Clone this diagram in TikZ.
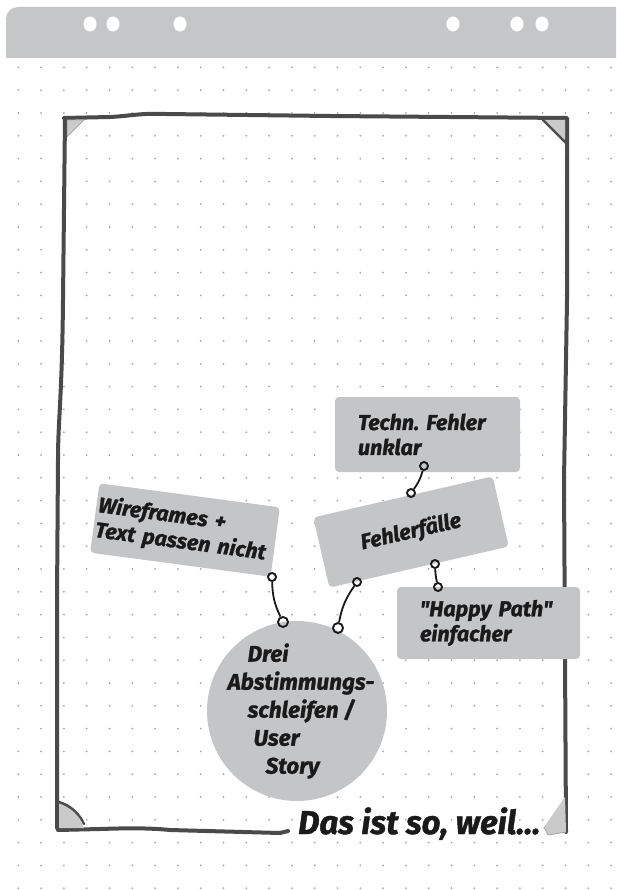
\documentclass[tikz,border=0pt]{standalone}
\usepackage{fontspec}
\setmainfont{Fira Sans}
\newfontfamily\labelface{Fira Sans}[FakeBold=1.3]
\definecolor{band}{HTML}{C5C6C8}
\definecolor{boxg}{HTML}{C4C5C7}
\definecolor{tabg}{HTML}{CACACA}
\definecolor{framec}{HTML}{4A4A4A}
\definecolor{dotc}{HTML}{A5A5A5}
\definecolor{ink}{HTML}{1A1A1A}
\newcommand{\labelfont}{\labelface\fontsize{21.5}{25}\selectfont\bfseries\itshape}
\newcommand{\circfont}{\labelface\fontsize{22.5}{28}\selectfont\bfseries\itshape}
\newcommand{\titlefont}{\labelface\fontsize{33}{36}\selectfont\bfseries\itshape}
\begin{document}
\begin{tikzpicture}[x=1pt,y=-1pt,
  card/.style={fill=boxg, rounded corners=4pt, inner sep=0pt, font=\labelfont, text=ink},
  ring/.style={circle, draw=ink, line width=1.9pt, minimum size=8pt, inner sep=0pt},
  bigring/.style={ring, minimum size=10pt},
  hook/.style={draw=ink, line width=1.8pt},
  frameline/.style={draw=framec, line width=4pt, line cap=round, line join=round},
  tabline/.style={draw=framec, line width=2.4pt, line cap=round}]
\fill[white] (0,0) rectangle (616,890);
\useasboundingbox (0,0) rectangle (616,890);
% dot grid
\foreach \i in {0,...,26} {
  \foreach \j in {0,...,36} {
    \fill[dotc] ({18.3+22.8*\i},{67.4+22.8*\j}) circle[radius=1];
  }
}
% header band
\fill[band] (6,58) -- (6,19) .. controls (6,12.4) and (11.4,7) .. (18,7) -- (616,7) -- (616,58) -- cycle;
\foreach \hx in {90,113,180,453,517,542} {
  \fill[white] (\hx,24) ellipse[x radius=6.5, y radius=7.5];
}
% frame
\draw[frameline] (64,118) -- (110,117) .. controls (130,116) and (140,113) .. (165,114) -- (330,116) -- (567,118) -- (567,300) -- (564,480) -- (566,832);
\draw[frameline] (65,118) -- (63,300) .. controls (62,400) and (58,420) .. (58,460) -- (57,600) -- (57,828);
\draw[frameline] (58,830) -- (100,829) .. controls (130,828) and (150,828) .. (170,830) -- (280,833) -- (288,831);
% corner tabs
\filldraw[fill=tabg, draw=gray!80, line width=0.5pt] (67,120) -- (84,120) -- (67,137) -- cycle;
\fill[tabg] (543,120) -- (565,120) -- (565,143) -- cycle;
\draw[tabline] (543,120) -- (566,143);
\fill[tabg] (59,802) -- (59,828) -- (84,828) .. controls (78,814) and (70,806) .. (59,802);
\draw[tabline] (59,802) .. controls (72,806) and (80,815) .. (84,824);
\fill[tabg] (544,827) -- (565,797) -- (566,832) -- (548,835) -- cycle;
\draw[draw=gray!70, line width=0.8pt] (544,827) -- (548,835) -- (566,832);
% cards
\node[card, minimum width=185pt, minimum height=75pt, text width=139pt, align=left] (techn) at (427.5,434.5) {Techn.\ Fehler\\unklar};
\node[card, minimum width=184pt, minimum height=72pt, rotate=12.9] (fehler) at (411,532) {Fehlerfälle};
\node[card, minimum width=183pt, minimum height=72pt, text width=137pt, align=left] (happy) at (488.5,623) {\textquotedbl Happy Path\textquotedbl\\einfacher};
\node[card, minimum width=182pt, minimum height=70pt, text width=178pt, align=left, rotate=-7.6] (wire) at (185,530) {Wireframes +\\Text passen nicht};
\node[circle, fill=boxg, minimum size=180pt, inner sep=-30pt, font=\circfont, align=left, text=ink] (drei) at (297,711) {\hspace*{28pt}Drei\\\hspace*{8pt}Abstimmungs-\\\hspace*{28pt}schleifen /\\\hspace*{34pt}User\\\hspace*{46pt}Story};
% rings and hooks
\node[ring] (r1a) at (424,466) {};
\node[ring] (r1b) at (411,493) {};
\node[ring] (r2a) at (435,564) {};
\node[ring] (r2b) at (438,587) {};
\node[ring] (r3a) at (357,582) {};
\node[bigring] (r3b) at (338,628) {};
\node[ring] (r4a) at (272,577) {};
\node[bigring] (r4b) at (283,622) {};
\draw[hook] (r1a) to[bend left=10] (r1b);
\draw[hook] (r2a) to[bend right=5] (r2b);
\draw[hook] (r3a) to[bend right=12] (r3b);
\draw[hook] (r4a) to[bend right=12] (r4b);
% title
\node[anchor=base west, font=\titlefont, text=ink, inner sep=0pt] (title) at (298,834) {Das ist so, weil...};
\end{tikzpicture}
\end{document}
